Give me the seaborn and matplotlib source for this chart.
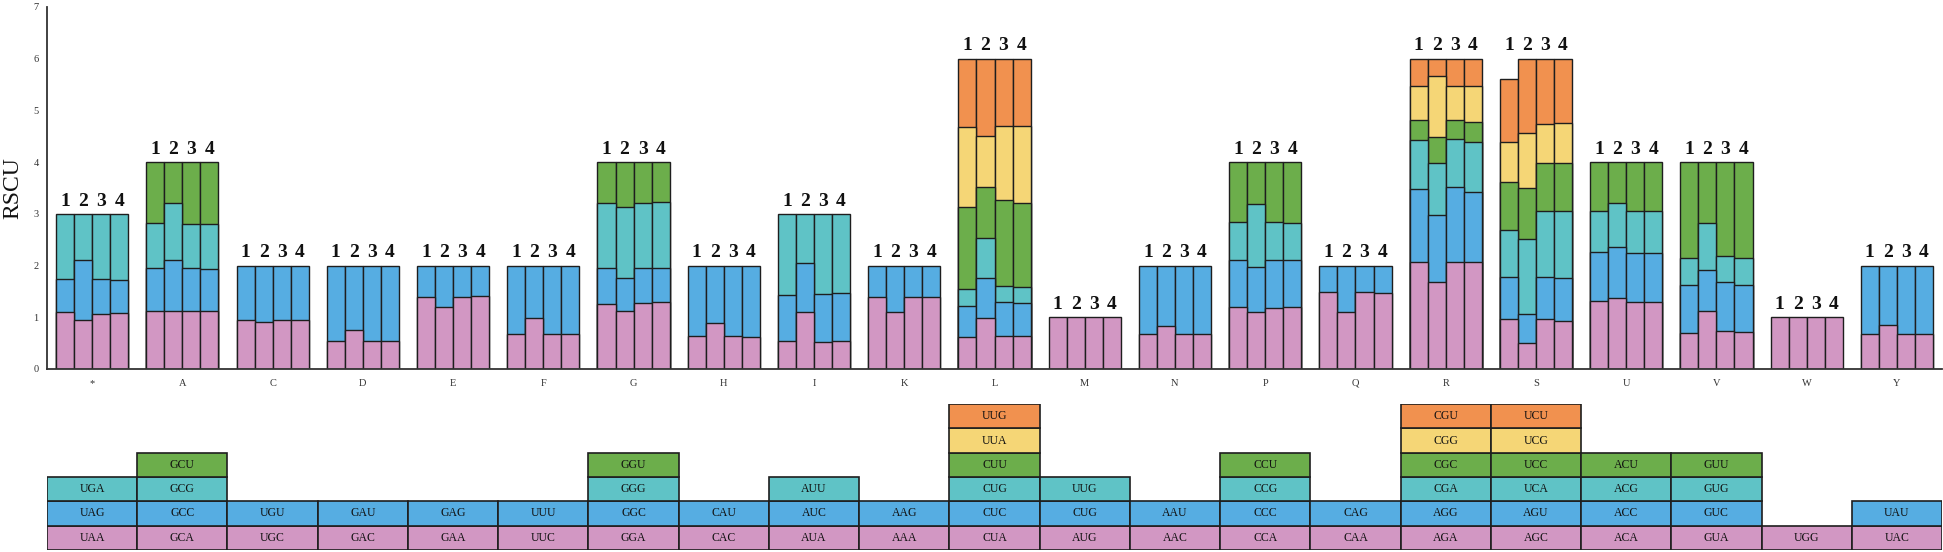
import numpy as np
import pandas as pd
import matplotlib
matplotlib.use("Agg")
import matplotlib.pyplot as plt
import seaborn as sns

# ---------------- data ----------------
amino_acids = ["*", "A", "C", "D", "E", "F", "G", "H", "I", "K", "L",
               "M", "N", "P", "Q", "R", "S", "U", "V", "W", "Y"]

codons = [
    ["UAA", "UAG", "UGA"],
    ["GCA", "GCC", "GCG", "GCU"],
    ["UGC", "UGU"],
    ["GAC", "GAU"],
    ["GAA", "GAG"],
    ["UUC", "UUU"],
    ["GGA", "GGC", "GGG", "GGU"],
    ["CAC", "CAU"],
    ["AUA", "AUC", "AUU"],
    ["AAA", "AAG"],
    ["CUA", "CUC", "CUG", "CUU", "UUA", "UUG"],
    ["AUG", "CUG", "UUG"],
    ["AAC", "AAU"],
    ["CCA", "CCC", "CCG", "CCU"],
    ["CAA", "CAG"],
    ["AGA", "AGG", "CGA", "CGC", "CGG", "CGU"],
    ["AGC", "AGU", "UCA", "UCC", "UCG", "UCU"],
    ["ACA", "ACC", "ACG", "ACU"],
    ["GUA", "GUC", "GUG", "GUU"],
    ["UGG"],
    ["UAC", "UAU"],
]

sample_names = ["1", "2", "3", "4"]

# RSCU per codon (same order as codons), one list per sample
rscu_1 = [
    [1.10, 0.63, 1.27], [1.12, 0.84, 0.87, 1.17], [0.95, 1.05], [0.54, 1.46],
    [1.40, 0.60], [0.68, 1.32], [1.25, 0.70, 1.25, 0.80], [0.63, 1.37],
    [0.54, 0.89, 1.57], [1.40, 0.60], [0.61, 0.61, 0.32, 1.60, 1.54, 1.32],
    [1.00, 0.00, 0.00], [0.68, 1.32], [1.19, 0.92, 0.73, 1.16], [1.48, 0.52],
    [2.06, 1.42, 0.94, 0.40, 0.64, 0.54], [0.96, 0.81, 0.92, 0.93, 0.77, 1.21],
    [1.32, 0.95, 0.79, 0.94], [0.69, 0.94, 0.51, 1.86], [1.00], [0.68, 1.32],
]
rscu_2 = [
    [0.95, 1.16, 0.89], [1.13, 0.98, 1.09, 0.80], [0.91, 1.09], [0.75, 1.25],
    [1.19, 0.81], [0.98, 1.02], [1.12, 0.63, 1.39, 0.86], [0.89, 1.11],
    [1.10, 0.94, 0.96], [1.10, 0.90], [0.99, 0.76, 0.79, 0.98, 0.98, 1.50],
    [1.00, 0.00, 0.00], [0.84, 1.16], [1.10, 0.88, 1.21, 0.81], [1.10, 0.90],
    [1.69, 1.28, 1.02, 0.49, 1.18, 0.34], [0.50, 0.56, 1.45, 0.98, 1.08, 1.43],
    [1.38, 0.98, 0.84, 0.80], [1.13, 0.78, 0.92, 1.17], [1.00], [0.85, 1.15],
]
rscu_3 = [
    [1.07, 0.66, 1.27], [1.12, 0.84, 0.84, 1.20], [0.95, 1.05], [0.54, 1.46],
    [1.40, 0.60], [0.68, 1.32], [1.27, 0.68, 1.25, 0.80], [0.63, 1.37],
    [0.52, 0.92, 1.56], [1.40, 0.60], [0.64, 0.65, 0.32, 1.66, 1.43, 1.30],
    [1.00, 0.00, 0.00], [0.68, 1.32], [1.18, 0.93, 0.73, 1.16], [1.48, 0.52],
    [2.07, 1.44, 0.93, 0.38, 0.65, 0.53], [0.96, 0.81, 1.29, 0.93, 0.74, 1.27],
    [1.30, 0.95, 0.81, 0.94], [0.73, 0.95, 0.50, 1.82], [1.00], [0.68, 1.32],
]
rscu_4 = [
    [1.08, 0.64, 1.28], [1.12, 0.81, 0.88, 1.19], [0.95, 1.05], [0.55, 1.45],
    [1.42, 0.58], [0.68, 1.32], [1.29, 0.67, 1.27, 0.77], [0.61, 1.39],
    [0.55, 0.91, 1.54], [1.40, 0.60], [0.63, 0.64, 0.32, 1.61, 1.49, 1.31],
    [1.00, 0.00, 0.00], [0.68, 1.32], [1.20, 0.90, 0.73, 1.17], [1.46, 0.54],
    [2.06, 1.36, 0.97, 0.38, 0.69, 0.54], [0.93, 0.83, 1.30, 0.93, 0.77, 1.24],
    [1.30, 0.95, 0.81, 0.94], [0.72, 0.90, 0.52, 1.86], [1.00], [0.68, 1.32],
]

y_ticks = [0, 1, 2, 3, 4, 5, 6, 7]
layer_colors = ["#D297C3", "#56ADE2", "#5FC3C6", "#6CAE4B", "#F5D676", "#F1914F"]
edge_color = "#1E1E1E"

# ---------------- build long table ----------------
rows = []
for s, vals in zip(sample_names, [rscu_1, rscu_2, rscu_3, rscu_4]):
    for aa, v in zip(amino_acids, vals):
        cum = np.cumsum(v)
        for layer, (seg, c) in enumerate(zip(v, cum)):
            rows.append(dict(aa=aa, sample=s, layer=layer, seg=seg, cum=c))
df = pd.DataFrame(rows)

# ---------------- figure ----------------
sns.set_theme(style="white")
plt.rcParams["font.family"] = ["Liberation Serif", "DejaVu Serif"]

W, H = 1943, 552
fig = plt.figure(figsize=(W / 100, H / 100), dpi=100)
ax = fig.add_axes([47 / W, (H - 369) / H, (1942 - 47) / W, (369 - 6.75) / H])
ax2 = fig.add_axes([47 / W, 2 / H, (1942 - 47) / W, (550 - 404) / H])

n_layers = df["layer"].max() + 1
for layer in reversed(range(n_layers)):
    d = df[(df["layer"] == layer) & (df["seg"] > 0)]
    sns.barplot(data=d, x="aa", y="cum", hue="sample", order=amino_acids,
                hue_order=sample_names, palette=[layer_colors[layer]] * 4,
                width=0.8, gap=0, dodge=True, errorbar=None, saturation=1,
                edgecolor=edge_color, linewidth=1.0, legend=False, ax=ax)

# sample numbers above each group
totals = df.groupby(["aa", "sample"])["seg"].sum()
for i, aa in enumerate(amino_acids):
    top = max(totals[(aa, s)] for s in sample_names)
    for j, s in enumerate(sample_names):
        ax.text(i + (j - 1.5) * 0.2, top + 0.08, s, ha="center", va="bottom",
                fontsize=14, fontweight="bold", color="#111111")

ax.set_xlim(-0.5, len(amino_acids) - 0.5)
ax.set_ylim(0, 7)
ax.set_yticks(y_ticks)
ax.set_yticklabels([str(t) for t in y_ticks])
ax.set_xlabel("")
ax.set_ylabel("RSCU", fontsize=17, color="#111111")
ax.yaxis.set_label_coords(-0.0125, 0.5)
ax.tick_params(axis="both", length=0, labelsize=7.5, colors="#333333")
ax.tick_params(axis="y", pad=6)
ax.tick_params(axis="x", pad=7)
for side in ["top", "right"]:
    ax.spines[side].set_visible(False)
for side in ["left", "bottom"]:
    ax.spines[side].set_color("#333333")
    ax.spines[side].set_linewidth(1.3)

# ---------------- codon table ----------------
for i, cods in enumerate(codons):
    for r, cod in enumerate(cods):
        ax2.bar(i, 1, bottom=r, width=1, color=layer_colors[r],
                edgecolor=edge_color, linewidth=1.2)
        ax2.text(i, r + 0.5, cod, ha="center", va="center", fontsize=8.5,
                 color="#111111")
ax2.set_xlim(-0.5, len(amino_acids) - 0.5)
ax2.set_ylim(0, 6)
ax2.axis("off")

fig.savefig("out.png", dpi=100)
